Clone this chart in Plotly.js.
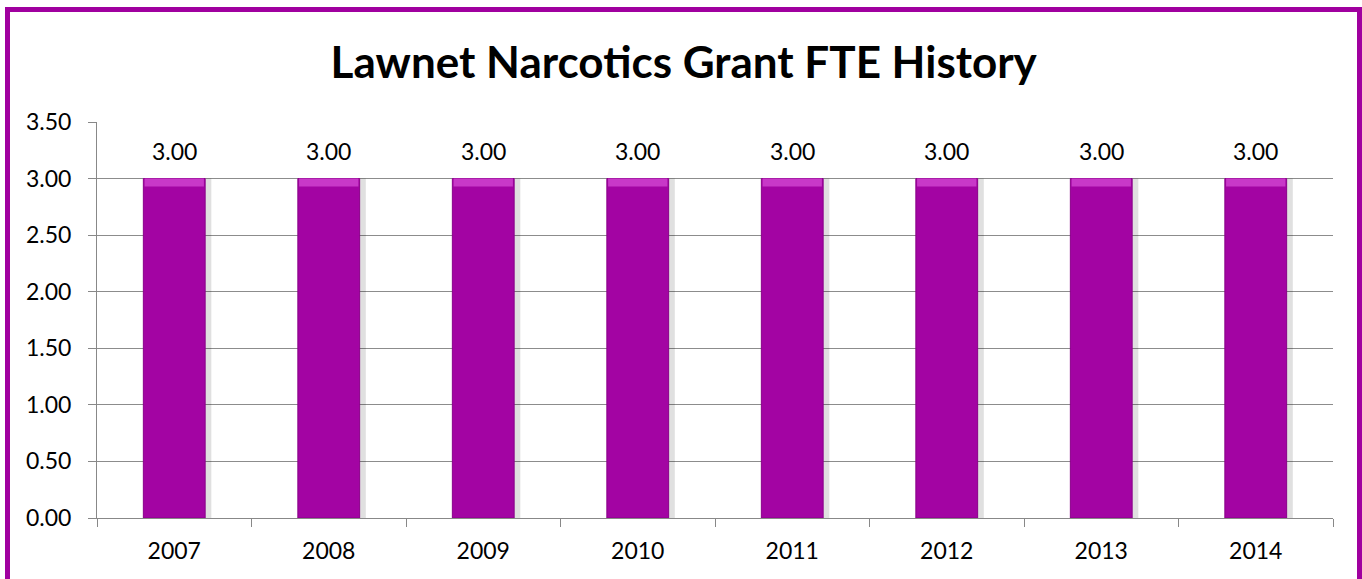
<!DOCTYPE html>
<html>
<head>
<meta charset="utf-8">
<script src="https://cdn.plot.ly/plotly-3.0.1.min.js"></script>
<style>
html,body{margin:0;padding:0;background:#fff;overflow:hidden;}
#wrap{position:relative;width:1362px;height:579px;}
#chart{width:1362px;height:579px;}
#frame{position:absolute;left:5px;top:7px;width:1357px;height:620px;box-sizing:border-box;border:5px solid #A0009F;pointer-events:none;}
</style>
</head>
<body>
<div id="wrap"><div id="chart"></div><div id="frame"></div></div>
<script>
var years = ['2007','2008','2009','2010','2011','2012','2013','2014'];
var fte = [3.00, 3.00, 3.00, 3.00, 3.00, 3.00, 3.00, 3.00];
var yTicks = [0, 0.5, 1, 1.5, 2, 2.5, 3, 3.5];

var FONT = 'Lato, "Open Sans", sans-serif';
var barW = 0.4;

var shadow = {
  type: 'bar', x: years, y: fte, width: barW, offset: -barW/2 + 0.04,
  marker: {color: 'rgba(0,0,0,0.12)', line: {width: 0}},
  hoverinfo: 'skip', showlegend: false
};
var bars = {
  type: 'bar', x: years, y: fte, width: barW, offset: -barW/2,
  marker: {color: '#A304A3', line: {color: '#8A0089', width: 1}},
  showlegend: false
};
var bevel = {
  type: 'bar', x: years, y: fte.map(function(){return 0.07;}),
  base: fte.map(function(v){return v - 0.07;}),
  width: barW * 0.96, offset: -barW * 0.48,
  marker: {color: '#C838C8', line: {width: 0}},
  hoverinfo: 'skip', showlegend: false
};

var annotations = years.map(function(yr, i){
  return {x: i, y: fte[i], xref: 'x', yref: 'y', text: fte[i].toFixed(2), showarrow: false,
    yanchor: 'bottom', yshift: 12, font: {family: FONT, size: 23, color: '#000'}};
});

var layout = {
  width: 1362, height: 579,
  margin: {l: 97, r: 29, t: 122, b: 61},
  paper_bgcolor: '#fff', plot_bgcolor: '#fff',
  barmode: 'overlay',
  title: {text: 'Lawnet Narcotics Grant FTE History', x: 0.502, xanchor: 'center',
    y: 1 - 63/579, yanchor: 'middle', yref: 'container',
    font: {family: FONT, size: 44, color: '#000', weight: 'bold'}},
  xaxis: {type: 'category', categoryarray: years, range: [-0.5, years.length - 0.5],
    tickson: 'boundaries', ticks: 'outside', ticklen: 8, tickangle: 0,
    tickcolor: '#888', showline: true, linecolor: '#888', linewidth: 1, ticklabelstandoff: 12,
    showgrid: false, tickfont: {family: FONT, size: 23, color: '#000'}, fixedrange: true},
  yaxis: {range: [0, 3.5], tickvals: yTicks, tickformat: '.2f', ticks: 'outside', ticklen: 8,
    tickcolor: '#888', showline: true, linecolor: '#888', linewidth: 1, ticklabelstandoff: 12,
    showgrid: true, gridcolor: '#8c8c8c', gridwidth: 1, zeroline: false,
    tickfont: {family: FONT, size: 23, color: '#000'}, fixedrange: true},
  annotations: annotations
};

Plotly.newPlot('chart', [shadow, bars, bevel], layout, {displayModeBar: false, staticPlot: true});
</script>
</body>
</html>
